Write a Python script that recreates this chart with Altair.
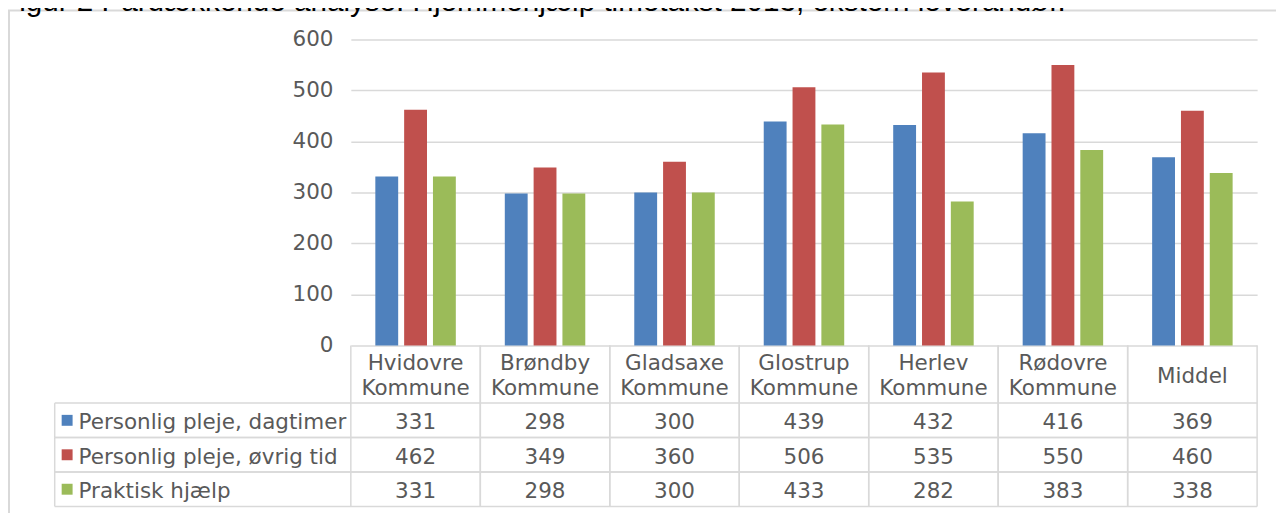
import altair as alt
import pandas as pd

title_text = "Figur 2 Pardækkende analyse: Hjemmehjælp timetakst 2013, ekstern leverandør."
categories = ["Hvidovre Kommune", "Brøndby Kommune", "Gladsaxe Kommune", "Glostrup Kommune",
              "Herlev Kommune", "Rødovre Kommune", "Middel"]
series = ["Personlig pleje, dagtimer", "Personlig pleje, øvrig tid", "Praktisk hjælp"]
dagtimer = [331, 298, 300, 439, 432, 416, 369]
ovrig_tid = [462, 349, 360, 506, 535, 550, 460]
praktisk = [331, 298, 300, 433, 282, 383, 338]
colors = ["#4F81BD", "#C0504D", "#9BBB59"]
y_ticks = [0, 100, 200, 300, 400, 500, 600]

rows = []
for s, vals in zip(series, [dagtimer, ovrig_tid, praktisk]):
    for c, v in zip(categories, vals):
        rows.append({"category": c, "series": s, "value": v})
df = pd.DataFrame(rows)
cat_df = pd.DataFrame({"category": categories})
ser_df = pd.DataFrame({"series": series})

TXT = "#595959"
LINE = "#d9d9d9"
FONT = "DejaVu Sans"
FS = 21.6

x_enc = alt.X("category:N", sort=categories,
              scale=alt.Scale(paddingInner=0, paddingOuter=0), axis=None)
row_scale = alt.Scale(type="band", domain=series, range=[366, 470], paddingInner=0, paddingOuter=0)
color_enc = alt.Color("series:N", scale=alt.Scale(domain=series, range=colors), legend=None)

def row_y(bp=None):
    if bp is None:
        return alt.Y("series:N", sort=series, scale=row_scale, axis=None)
    return alt.Y("series:N", sort=series, scale=row_scale, axis=None, bandPosition=bp)

frame = alt.Chart(pd.DataFrame({"a": [0]})).mark_rect(
    fillOpacity=0, stroke=LINE, strokeWidth=2
).encode(x=alt.value(-344), x2=alt.value(960), y=alt.value(-29), y2=alt.value(500))

title = alt.Chart(pd.DataFrame({"t": [title_text]})).mark_text(
    align="left", baseline="alphabetic", font="Liberation Sans", fontSize=29.8, color="#000000"
).encode(x=alt.value(-352), y=alt.value(-29), text="t:N")

bars = alt.Chart(df).mark_bar().encode(
    x=x_enc,
    xOffset=alt.XOffset("series:N", sort=series,
                        scale=alt.Scale(paddingInner=0.207, paddingOuter=0.85)),
    y=alt.Y("value:Q", scale=alt.Scale(domain=[0, 600]),
            axis=alt.Axis(values=y_ticks, grid=True, gridColor=LINE, gridWidth=1.5,
                          domain=False, ticks=False, labelPadding=18, labelFont=FONT,
                          labelFontSize=FS, labelColor=TXT, title=None)),
    color=color_enc,
)

def col_rule(bp):
    return alt.Chart(cat_df).mark_rule(color=LINE, strokeWidth=1.5).encode(
        x=alt.X("category:N", sort=categories, bandPosition=bp,
                scale=alt.Scale(paddingInner=0, paddingOuter=0), axis=None),
        y=alt.value(308), y2=alt.value(470))

left_rule = alt.Chart(pd.DataFrame({"a": [0]})).mark_rule(color=LINE, strokeWidth=1.5).encode(
    x=alt.value(-298), y=alt.value(366), y2=alt.value(470))

def row_rule(bp):
    return alt.Chart(ser_df).mark_rule(color=LINE, strokeWidth=1.5).encode(
        x=alt.value(-298), x2=alt.value(912), y=row_y(bp))

text_style = dict(font=FONT, fontSize=FS, color=TXT, baseline="middle", dy=3)

header2 = alt.Chart(cat_df).transform_filter(
    "indexof(datum.category, ' ') >= 0"
).mark_text(align="center", lineBreak=" ", lineHeight=25, **text_style).encode(
    x=x_enc, y=alt.value(324), text="category:N")

header1 = alt.Chart(cat_df).transform_filter(
    "indexof(datum.category, ' ') < 0"
).mark_text(align="center", **text_style).encode(
    x=x_enc, y=alt.value(337), text="category:N")

cells = alt.Chart(df).mark_text(align="center", **text_style).encode(
    x=x_enc, y=row_y(), text="value:Q")

row_labels = alt.Chart(ser_df).mark_text(align="left", **text_style).encode(
    x=alt.value(-274), y=row_y(), text="series:N")

swatches = alt.Chart(ser_df).mark_square(size=121, opacity=1).encode(
    x=alt.value(-285.5), y=row_y(), color=color_enc)

chart = alt.layer(
    frame, title, bars, col_rule(0), col_rule(1), left_rule, row_rule(0), row_rule(1),
    header2, header1, cells, row_labels, swatches
).resolve_scale(y="independent").properties(
    width=912, height=308,
    autosize=alt.AutoSizeParams(type="none"),
    padding={"left": 345, "top": 30, "right": 19, "bottom": 167},
    background="white",
).configure_view(stroke=None)

chart.save("out.html", embed_options={"renderer": "svg", "actions": False})
